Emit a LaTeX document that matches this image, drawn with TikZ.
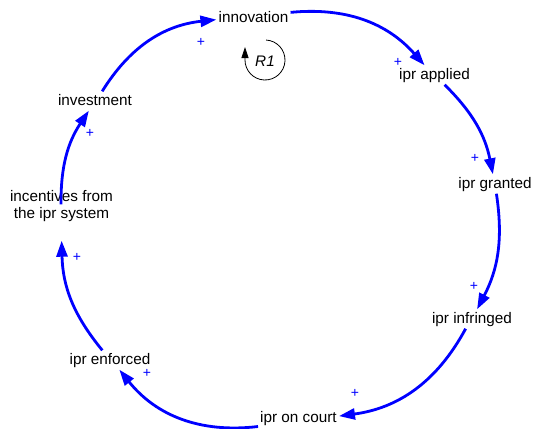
\documentclass[tikz,border=0pt]{standalone}
\usepackage{fontspec}
\setmainfont{Liberation Sans}
\usetikzlibrary{arrows.meta}
\definecolor{vblue}{RGB}{0,0,255}
\begin{document}
\begin{tikzpicture}[x=1pt,y=1pt,
  var/.style={font=\fontsize{15.3}{17}\selectfont, text height=11.5pt, text depth=3.5pt, inner sep=2pt},
  link/.style={draw=vblue, line width=2.8pt, -{Triangle[length=16pt,width=11pt]}},
  pol/.style={text=vblue, font=\fontsize{14}{14}\selectfont, inner sep=0pt},
  loopmark/.style={draw=black, line width=0.8pt, -{Triangle[length=11pt,width=7pt]}},
]
\useasboundingbox (0,0) rectangle (534,-428);
% variables
\node[var] (inn) at (253.5,-18.7) {innovation};
\node[var] (app) at (434.5,-75) {ipr applied};
\node[var] (gra) at (495,-184) {ipr granted};
\node[var] (inf) at (472,-319) {ipr infringed};
\node[var] (cou) at (298.5,-418) {ipr on court};
\node[var] (enf) at (110,-360) {ipr enforced};
\node[var, align=center, text depth=20.5pt] (inc) at (61.5,-222.5) {incentives from\\the ipr system};
\node[var] (inv) at (95,-101) {investment};
% links
\draw[link] (inn) to[bend left=27] (app);
\draw[link] (app) to[bend left=17] (gra);
\draw[link] (gra) to[bend left=18] (inf);
\draw[link] (inf) to[bend left=27] (cou);
\draw[link] (cou) to[bend left=29] (enf);
\draw[link] (enf) to[bend left=19] (inc);
\draw[link] (inc) to[bend left=17] (inv);
\draw[link] (inv) to[bend left=26] (inn);
% polarities
\node[pol] (p1) at (398,-62) {+};
\node[pol] (p2) at (475,-158) {+};
\node[pol] (p3) at (474,-286) {+};
\node[pol] (p4) at (355,-393) {+};
\node[pol] (p5) at (147,-373) {+};
\node[pol] (p6) at (77,-257) {+};
\node[pol] (p7) at (90,-133) {+};
\node[pol] (p8) at (201,-42) {+};
% loop identifier
\coordinate (r1c) at (265,-60);
\node[font=\fontsize{15.3}{17}\selectfont\itshape, inner sep=0pt] (r1) at (265,-61) {R1};
\draw[loopmark] (r1c) ++(87:20) arc[start angle=87, end angle=-180, radius=20] -- ++(0,13);
\end{tikzpicture}
\end{document}
